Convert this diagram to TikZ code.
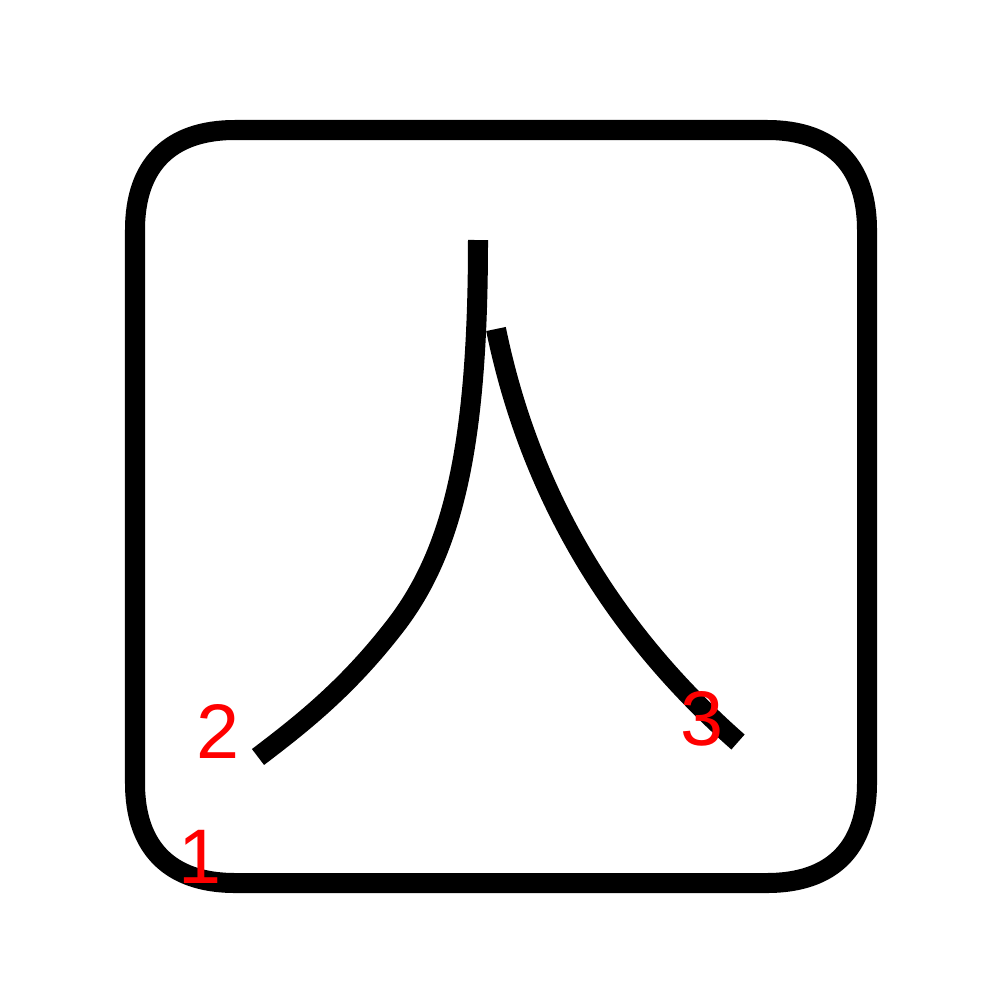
\documentclass[tikz,border=0pt]{standalone}
\usepackage{fontspec}
\setmainfont{Liberation Sans}
\usepackage{tikz}
\usepackage{xcolor}

\begin{document}
\begin{tikzpicture}[x=0.01cm, y=-0.01cm,
    stroke/.style={line width=0.2cm, line cap=butt, line join=round},
    num/.style={red, font=\fontsize{22}{22}\selectfont, anchor=base, inner sep=0pt}]
    \useasboundingbox (0,0) rectangle (1000,1000);
    % Frame (stroke 1)
    \draw[stroke] (135,230) .. controls (135,165) and (170,130) .. (235,130)
        -- (767,130) .. controls (832,130) and (867,165) .. (867,230)
        -- (867,783) .. controls (867,848) and (832,883) .. (767,883)
        -- (235,883) .. controls (170,883) and (135,848) .. (135,783) -- cycle;
    % Stroke 2
    \draw[stroke] (478,240) .. controls (478,450) and (452,555) .. (392,630)
        .. controls (345,690) and (300,725) .. (258,757);
    % Stroke 3
    \draw[stroke] (496,329) .. controls (532,505) and (622,640) .. (738,742);
    % Numbers
    \node[num] (n1) at (200,883) {1};
    \node[num] (n2) at (218,758) {2};
    \node[num] (n3) at (702,745) {3};
\end{tikzpicture}
\end{document}
